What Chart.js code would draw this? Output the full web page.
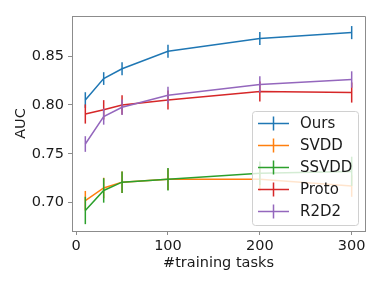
<!DOCTYPE html>
<html>
<head>
<meta charset="utf-8">
<script src="https://cdn.jsdelivr.net/npm/chart.js@4.4.0/dist/chart.umd.min.js"></script>
<style>
html,body{margin:0;padding:0;background:#fff;}
canvas{display:block;}
</style>
</head>
<body>
<canvas id="c" width="383" height="287"></canvas>
<script>
const tasks = [10, 30, 50, 100, 200, 300];
const xTicks = [0, 100, 200, 300];
const yTicks = [0.70, 0.75, 0.80, 0.85];

const ours = [0.805, 0.827, 0.837, 0.855, 0.868, 0.874];
const oursErr = [0.008, 0.0065, 0.0067, 0.0067, 0.0067, 0.0067];
const svdd = [0.702, 0.715, 0.721, 0.724, 0.724, 0.717];
const svddErr = [0.010, 0.0105, 0.011, 0.011, 0.012, 0.011];
const ssvdd = [0.692, 0.7125, 0.721, 0.724, 0.730, 0.732];
const ssvddErr = [0.014, 0.0125, 0.011, 0.0115, 0.012, 0.015];
const proto = [0.7907, 0.795, 0.800, 0.805, 0.8137, 0.8127];
const protoErr = [0.0098, 0.0099, 0.0098, 0.0098, 0.0103, 0.0103];
const r2d2 = [0.760, 0.788, 0.7976, 0.810, 0.821, 0.826];
const r2d2Err = [0.008, 0.0082, 0.008, 0.0085, 0.0084, 0.0084];

const names = ['Ours', 'SVDD', 'SSVDD', 'Proto', 'R2D2'];
const colors = ['#1f77b4', '#ff7f0e', '#2ca02c', '#d62728', '#9467bd'];
const values = [ours, svdd, ssvdd, proto, r2d2];
const errs = [oursErr, svddErr, ssvddErr, protoErr, r2d2Err];

const FONT = "'DejaVu Sans', sans-serif";
const SPINE = '#8c8c8c';
const TEXT = '#1a1a1a';

const datasets = names.map((n, i) => ({
  label: n,
  data: tasks.map((t, j) => ({x: t, y: values[i][j]})),
  errs: errs[i],
  borderColor: colors[i],
  backgroundColor: colors[i],
  borderWidth: 1.5,
  pointRadius: 0,
  tension: 0,
  order: names.length - 1 - i
}));

const errorBars = {
  id: 'errorBars',
  afterDatasetDraw(chart, args) {
    const ds = chart.data.datasets[args.index];
    const xs = chart.scales.x, ys = chart.scales.y;
    const ctx = chart.ctx;
    const a = chart.chartArea;
    ctx.save();
    ctx.beginPath();
    ctx.rect(a.left, a.top, a.right - a.left, a.bottom - a.top);
    ctx.clip();
    ctx.strokeStyle = ds.borderColor;
    ctx.lineWidth = 1.5;
    ds.data.forEach((p, j) => {
      const px = xs.getPixelForValue(p.x);
      ctx.beginPath();
      ctx.moveTo(px, ys.getPixelForValue(p.y - ds.errs[j]));
      ctx.lineTo(px, ys.getPixelForValue(p.y + ds.errs[j]));
      ctx.stroke();
    });
    ctx.restore();
  }
};

const frameAndLegend = {
  id: 'frameAndLegend',
  afterDatasetsDraw(chart) {
    const ctx = chart.ctx;
    const a = chart.chartArea;
    ctx.save();
    const lx = 252.5, ly = 111.5, lw = 106, lh = 114, r = 3;
    ctx.beginPath();
    ctx.moveTo(lx + r, ly);
    ctx.lineTo(lx + lw - r, ly);
    ctx.arcTo(lx + lw, ly, lx + lw, ly + r, r);
    ctx.lineTo(lx + lw, ly + lh - r);
    ctx.arcTo(lx + lw, ly + lh, lx + lw - r, ly + lh, r);
    ctx.lineTo(lx + r, ly + lh);
    ctx.arcTo(lx, ly + lh, lx, ly + lh - r, r);
    ctx.lineTo(lx, ly + r);
    ctx.arcTo(lx, ly, lx + r, ly, r);
    ctx.closePath();
    ctx.fillStyle = 'rgba(255,255,255,0.8)';
    ctx.fill();
    ctx.strokeStyle = '#d0d0d0';
    ctx.lineWidth = 1;
    ctx.stroke();
    ctx.font = '15px ' + FONT;
    ctx.textBaseline = 'middle';
    ctx.textAlign = 'left';
    chart.data.datasets.forEach((ds, i) => {
      const y = 123.5 + i * 22;
      ctx.strokeStyle = ds.borderColor;
      ctx.lineWidth = 1.5;
      ctx.beginPath();
      ctx.moveTo(258, y);
      ctx.lineTo(289, y);
      ctx.moveTo(273.5, y - 7);
      ctx.lineTo(273.5, y + 7);
      ctx.stroke();
      ctx.fillStyle = TEXT;
      ctx.fillText(ds.label, 300, y + 0.5);
    });
    ctx.strokeStyle = SPINE;
    ctx.lineWidth = 1;
    ctx.beginPath();
    ctx.moveTo(a.left, a.top + 0.5);
    ctx.lineTo(a.right + 0.5, a.top + 0.5);
    ctx.lineTo(a.right + 0.5, a.bottom);
    ctx.stroke();
    ctx.restore();
  }
};

new Chart(document.getElementById('c'), {
  type: 'line',
  data: {datasets},
  options: {
    responsive: false,
    animation: false,
    devicePixelRatio: 1,
    layout: {padding: {top: 16, right: 18, left: 0, bottom: 0}},
    plugins: {legend: {display: false}, tooltip: {enabled: false}},
    scales: {
      x: {
        type: 'linear',
        min: -4.5,
        max: 314.5,
        afterBuildTicks(s) { s.ticks = xTicks.map(v => ({value: v})); },
        afterFit(s) { s.height = 56; },
        grid: {drawOnChartArea: false, drawTicks: true, tickLength: 4, color: SPINE},
        border: {color: SPINE, width: 1},
        ticks: {font: {family: FONT, size: 14.5}, color: TEXT, padding: 3, maxRotation: 0,
          callback: v => String(v)},
        title: {display: true, text: '#training tasks', font: {family: FONT, size: 14.5}, color: TEXT, padding: {top: 0, bottom: 15}}
      },
      y: {
        type: 'linear',
        min: 0.671,
        max: 0.891,
        afterBuildTicks(s) { s.ticks = yTicks.map(v => ({value: v})); },
        afterFit(s) { s.width = 72; },
        grid: {drawOnChartArea: false, drawTicks: true, tickLength: 4, color: SPINE},
        border: {color: SPINE, width: 1},
        ticks: {font: {family: FONT, size: 14.5}, color: TEXT, padding: 4,
          callback: v => v.toFixed(2)},
        title: {display: true, text: 'AUC', font: {family: FONT, size: 14.5}, color: TEXT, padding: {top: 13, bottom: 0}}
      }
    }
  },
  plugins: [errorBars, frameAndLegend]
});
</script>
</body>
</html>
